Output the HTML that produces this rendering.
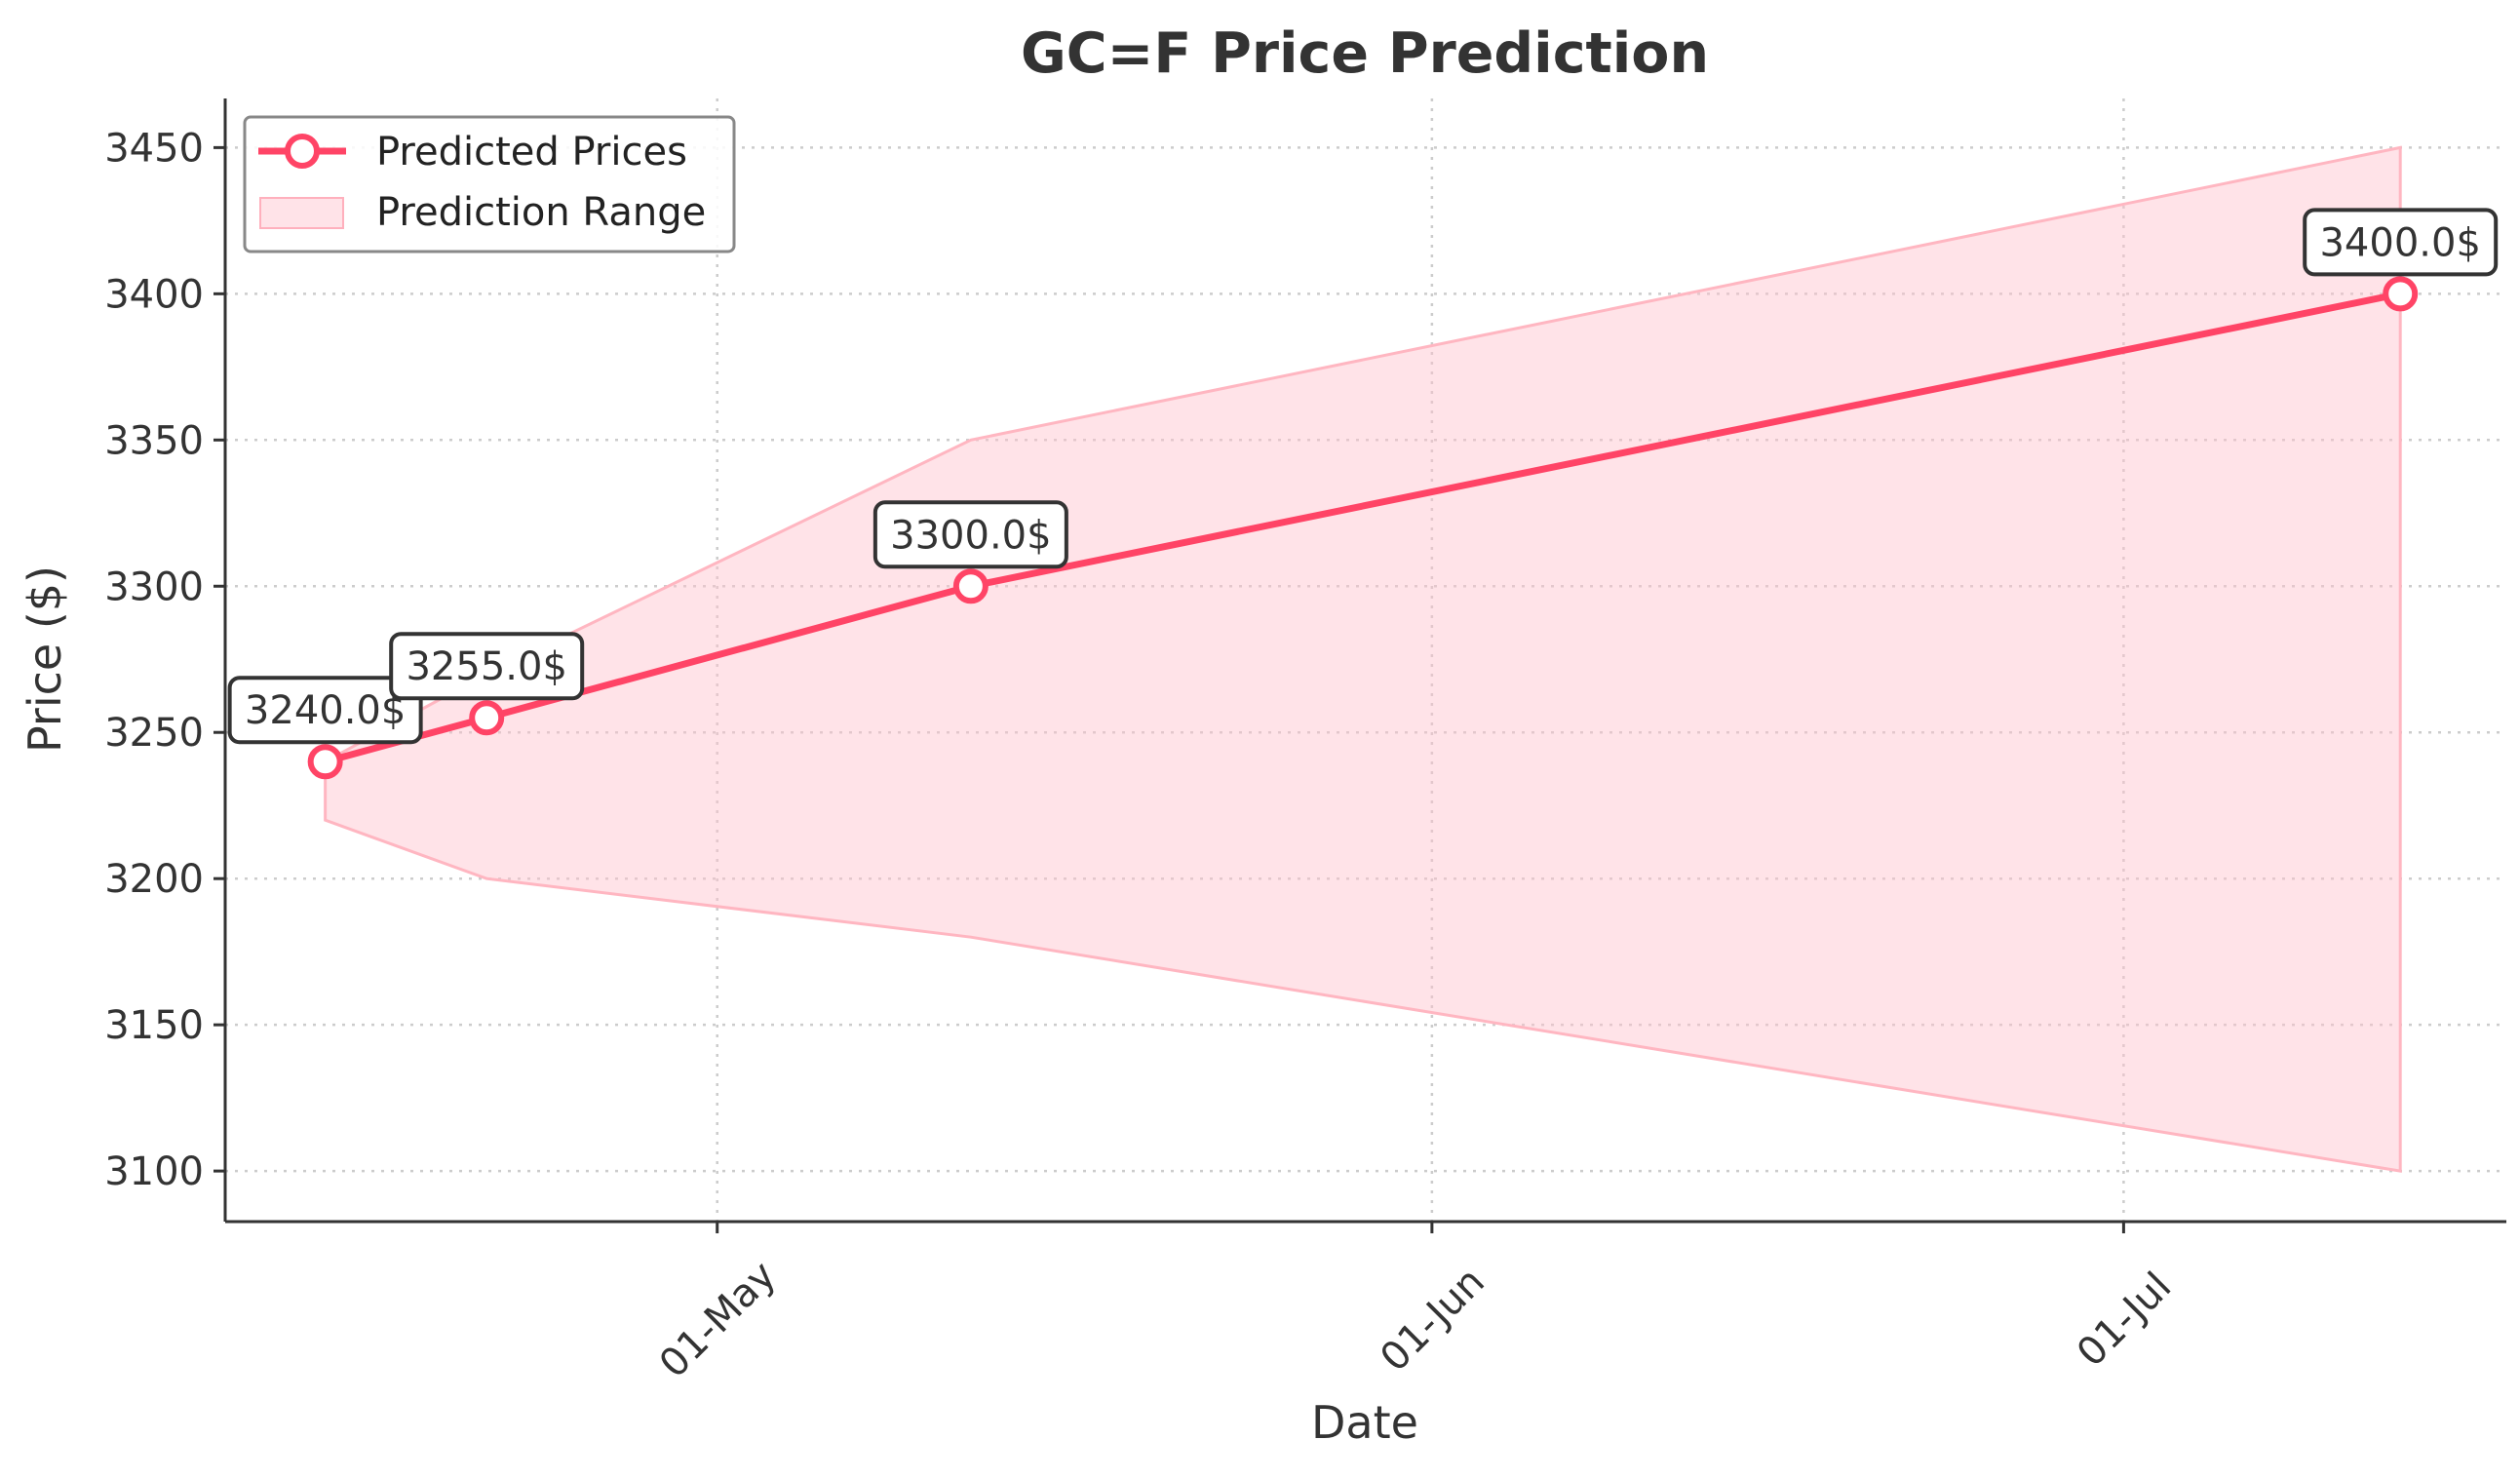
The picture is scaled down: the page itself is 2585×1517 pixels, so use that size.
<!DOCTYPE html>
<html><head><meta charset="utf-8"><style>
html,body{margin:0;padding:0;background:#fff}
svg{display:block;font-family:"DejaVu Sans","Liberation Sans",sans-serif}
</style></head><body>
<svg id="chart" width="2585" height="1517" viewBox="0 0 2585 1517" xmlns="http://www.w3.org/2000/svg">
<rect width="2585" height="1517" fill="#fff"/>
<text x="1400" y="74" text-anchor="middle" font-size="57" font-weight="bold" fill="#333">GC=F Price Prediction</text>
<g id="grid"></g>
<g id="band"></g>
<g id="series"></g>
<g id="axes"></g>
<text x="0" y="0" transform="translate(62,676) rotate(-90)" text-anchor="middle" font-size="46" fill="#333">Price ($)</text>
<text x="1400" y="1475" text-anchor="middle" font-size="46" fill="#333">Date</text>
<g>
<rect x="251" y="120" width="502" height="138" rx="6" fill="#fff" fill-opacity="0.85" stroke="#888" stroke-width="3"/>
<line x1="265" y1="155" x2="355" y2="155" stroke="#ff4466" stroke-width="7"/>
<circle cx="310" cy="155" r="15" fill="#fff" stroke="#ff4466" stroke-width="6"/>
<text x="386" y="169" font-size="40" fill="#222">Predicted Prices</text>
<rect x="267" y="203" width="85" height="31" fill="#ffc0cb" fill-opacity="0.45" stroke="#ffb0bd" stroke-width="2"/>
<text x="386" y="231" font-size="40" fill="#222">Prediction Range</text>
</g>
<script>
const dayOffsets = [13, 20, 41, 103]; // days since 1-Apr
const predicted = [3240, 3255, 3300, 3400];
const upper = [3240, 3270, 3350, 3450];
const lower = [3220, 3200, 3180, 3100];
const yTicks = [3100, 3150, 3200, 3250, 3300, 3350, 3400, 3450];
const xTickDays = [30, 61, 91];
const xTickLabels = ['01-May', '01-Jun', '01-Jul'];
const NS = 'http://www.w3.org/2000/svg';
const L = 231, R = 2571, T = 101, B = 1253;
const xMin = 8.66, xMax = 107.6, yMin = 3082.7, yMax = 3466.8;
const X = d => L + (d - xMin) / (xMax - xMin) * (R - L);
const Y = v => B - (v - yMin) / (yMax - yMin) * (B - T);
function mk(tag, attrs, parent) { const e = document.createElementNS(NS, tag); for (const k in attrs) e.setAttribute(k, attrs[k]); parent.appendChild(e); return e; }
const grid = document.getElementById('grid'), band = document.getElementById('band'), series = document.getElementById('series'), axes = document.getElementById('axes');
yTicks.forEach(v => {
  const g = mk('line', {x1: L, x2: R, y1: Y(v), y2: Y(v), stroke: '#ccc', 'stroke-width': 2.5, 'stroke-dasharray': '3 7'}, grid);
  
  
  const t = mk('line', {x1: L - 12, x2: L, y1: Y(v), y2: Y(v), stroke: '#333', 'stroke-width': 3}, axes);
  
  
  const lb = mk('text', {x: L - 22, y: Y(v) + 14, 'text-anchor': 'end', 'font-size': 40, fill: '#333'}, axes);
  lb.textContent = v;
  
  
});
xTickDays.forEach((d, i) => {
  const g = mk('line', {x1: X(d), x2: X(d), y1: T, y2: B, stroke: '#ccc', 'stroke-width': 2.5, 'stroke-dasharray': '3 7'}, grid);
  
  
  const t = mk('line', {x1: X(d), x2: X(d), y1: B, y2: B + 12, stroke: '#333', 'stroke-width': 3}, axes);
  
  
  const lb = mk('text', {x: 0, y: 14, 'text-anchor': 'middle', 'font-size': 40, fill: '#333', transform: `translate(${X(d)},1353) rotate(-45)`}, axes);
  lb.textContent = xTickLabels[i];
  
  
});
let pts = dayOffsets.map((d, i) => X(d) + ',' + Y(upper[i]));
pts = pts.concat(dayOffsets.map((d, i) => X(d) + ',' + Y(lower[i])).reverse());
const poly = mk('polygon', {points: pts.join(' '), fill: '#ffc0cb', 'fill-opacity': 0.45, stroke: '#ffb6c1', 'stroke-width': 3}, band);


const line = mk('polyline', {points: dayOffsets.map((d, i) => X(d) + ',' + Y(predicted[i])).join(' '), fill: 'none', stroke: '#ff4466', 'stroke-width': 7, 'stroke-linejoin': 'round'}, series);


dayOffsets.forEach((d, i) => {
  const c = mk('circle', {cx: X(d), cy: Y(predicted[i]), r: 15, fill: '#fff', stroke: '#ff4466', 'stroke-width': 6}, series);
  
  
});
dayOffsets.forEach((d, i) => {
  const cx = X(d), cy = Y(predicted[i]) - 53;
  const b = mk('rect', {x: cx - 98, y: cy - 33, width: 196, height: 66, rx: 10, fill: '#fff', stroke: '#333', 'stroke-width': 4}, series);
  
  
  const t = mk('text', {x: cx, y: cy + 14, 'text-anchor': 'middle', 'font-size': 40, fill: '#333'}, series);
  t.textContent = predicted[i].toFixed(1) + '$';
  
  
});
const ya = mk('line', {x1: L, x2: L, y1: T, y2: B, stroke: '#333', 'stroke-width': 3}, axes);


const xa = mk('line', {x1: L, x2: R, y1: B, y2: B, stroke: '#333', 'stroke-width': 3}, axes);


</script>
</svg>
</body></html>
